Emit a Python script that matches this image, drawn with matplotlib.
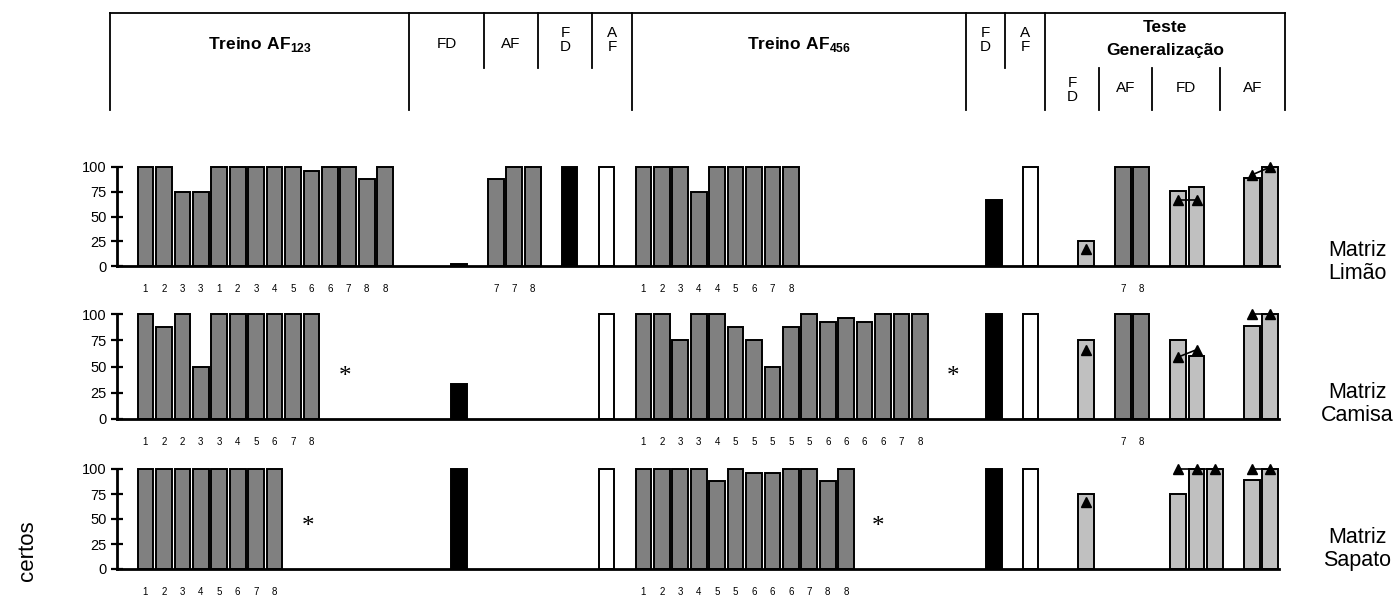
import matplotlib
matplotlib.use("Agg")
import matplotlib.pyplot as plt
import numpy as np

plt.rcParams['font.family'] = ['Liberation Sans', 'DejaVu Sans']
plt.rcParams['mathtext.fontset'] = 'custom'
plt.rcParams['mathtext.rm'] = 'Liberation Sans'
plt.rcParams['mathtext.bf'] = 'Liberation Sans:bold'

# ---- Matriz Limão ----
lim_treino1 = [100, 100, 75, 75, 100, 100, 100, 100, 100, 96, 100, 100, 88, 100]
lim_treino1_lab = ["1", "2", "3", "3", "1", "2", "3", "4", "5", "6", "6", "7", "8", "8"]
lim_fd = [2]
lim_af = [88, 100, 100]
lim_af_lab = ["7", "7", "8"]
lim_sonda_fd = [100]
lim_sonda_af = [100]
lim_treino2 = [100, 100, 100, 75, 100, 100, 100, 100, 100]
lim_treino2_lab = ["1", "2", "3", "4", "4", "5", "6", "7", "8"]
lim_sonda2_fd = [67]
lim_sonda2_af = [100]
lim_tg_fd1 = [25]
lim_tg_af1 = [100, 100]
lim_tg_af1_lab = ["7", "8"]
lim_tg_fd2 = [76, 80]
lim_tg_af2 = [89, 100]
lim_tri_fd1 = [17]
lim_tri_fd2 = [67, 67]
lim_tri_af2 = [92, 100]

# ---- Matriz Camisa ----
cam_treino1 = [100, 88, 100, 50, 100, 100, 100, 100, 100, 100]
cam_treino1_lab = ["1", "2", "2", "3", "3", "4", "5", "6", "7", "8"]
cam_fd = [33]
cam_af = []
cam_af_lab = []
cam_sonda_fd = []
cam_sonda_af = [100]
cam_treino2 = [100, 100, 75, 100, 100, 88, 75, 50, 88, 100, 92, 96, 92, 100, 100, 100]
cam_treino2_lab = ["1", "2", "3", "3", "4", "5", "5", "5", "5", "5", "6", "6", "6", "6", "7", "8"]
cam_sonda2_fd = [100]
cam_sonda2_af = [100]
cam_tg_fd1 = [75]
cam_tg_af1 = [100, 100]
cam_tg_af1_lab = ["7", "8"]
cam_tg_fd2 = [75, 60]
cam_tg_af2 = [89, 100]
cam_tri_fd1 = [66]
cam_tri_fd2 = [59, 66]
cam_tri_af2 = [100, 100]

# ---- Matriz Sapato ----
sap_treino1 = [100, 100, 100, 100, 100, 100, 100, 100]
sap_treino1_lab = ["1", "2", "3", "4", "5", "6", "7", "8"]
sap_fd = [100]
sap_af = []
sap_af_lab = []
sap_sonda_fd = []
sap_sonda_af = [100]
sap_treino2 = [100, 100, 100, 100, 88, 100, 96, 96, 100, 100, 88, 100]
sap_treino2_lab = ["1", "2", "3", "4", "5", "5", "6", "6", "6", "7", "8", "8"]
sap_sonda2_fd = [100]
sap_sonda2_af = [100]
sap_tg_fd1 = [75]
sap_tg_af1 = []
sap_tg_af1_lab = []
sap_tg_fd2 = [75, 100, 100]
sap_tg_af2 = [89, 100]
sap_tri_fd1 = [67]
sap_tri_fd2 = [100, 100, 100]
sap_tri_af2 = [100, 100]

# asterisks (x in slot units, y in %)
cam_ast = [(10.8, 40), (43.8, 40)]
sap_ast = [(8.8, 42), (39.7, 42)]

panel_names = ["Matriz\nLimão", "Matriz\nCamisa", "Matriz\nSapato"]

# layout: start slot of each block
S_TR1, S_FD, S_AF, S_SFD, S_SAF, S_TR2 = 0, 17, 19, 23, 25, 27
S_SFD2, S_SAF2, S_TFD1, S_TAF1, S_TFD2, S_TAF2 = 46, 48, 51, 53, 56, 60

DARK, LIGHT = "#808080", "#c0c0c0"
W, H = 1399, 596
XL = (-1.545, 61.47)
AX_L, AX_W = 117 / W, (1279 - 117) / W

fig = plt.figure(figsize=(W / 100, H / 100), dpi=100)

panels = [
    (lim_treino1, lim_treino1_lab, lim_fd, lim_af, lim_af_lab, lim_sonda_fd, lim_sonda_af,
     lim_treino2, lim_treino2_lab, lim_sonda2_fd, lim_sonda2_af, lim_tg_fd1, lim_tg_af1,
     lim_tg_af1_lab, lim_tg_fd2, lim_tg_af2, lim_tri_fd1, lim_tri_fd2, lim_tri_af2, []),
    (cam_treino1, cam_treino1_lab, cam_fd, cam_af, cam_af_lab, cam_sonda_fd, cam_sonda_af,
     cam_treino2, cam_treino2_lab, cam_sonda2_fd, cam_sonda2_af, cam_tg_fd1, cam_tg_af1,
     cam_tg_af1_lab, cam_tg_fd2, cam_tg_af2, cam_tri_fd1, cam_tri_fd2, cam_tri_af2, cam_ast),
    (sap_treino1, sap_treino1_lab, sap_fd, sap_af, sap_af_lab, sap_sonda_fd, sap_sonda_af,
     sap_treino2, sap_treino2_lab, sap_sonda2_fd, sap_sonda2_af, sap_tg_fd1, sap_tg_af1,
     sap_tg_af1_lab, sap_tg_fd2, sap_tg_af2, sap_tri_fd1, sap_tri_fd2, sap_tri_af2, sap_ast),
]
# pixel rows (y of 100, y of 0) and label centre
rows = [(167, 266, 262), (314, 419, 404), (469, 569, 549)]


def bars(ax, start, vals, color):
    x = np.arange(start, start + len(vals))
    if len(vals):
        ax.bar(x, vals, width=0.85, color=color, edgecolor="black", linewidth=1.4,
               clip_on=False, zorder=2)
    return list(x)


def tris(ax, start, vals):
    if len(vals):
        x = np.arange(start, start + len(vals))
        ax.plot(x, vals, color="black", lw=1.2, marker="^", ms=7, clip_on=False, zorder=4)


for i, p in enumerate(panels):
    y100, y0, ylab = rows[i]
    (tr1, tr1l, fd, af, afl, sfd, saf, tr2, tr2l, sfd2, saf2,
     tfd1, taf1, taf1l, tfd2, taf2, tri1, tri2, tri3, ast) = p
    ax = fig.add_axes([AX_L, 1 - y0 / H, AX_W, (y0 - y100) / H])
    ticks, labs = [], []
    ticks += bars(ax, S_TR1, tr1, DARK); labs += tr1l
    bars(ax, S_FD, fd, "black")
    ticks += bars(ax, S_AF, af, DARK); labs += afl
    bars(ax, S_SFD, sfd, "black")
    bars(ax, S_SAF, saf, "white")
    ticks += bars(ax, S_TR2, tr2, DARK); labs += tr2l
    bars(ax, S_SFD2, sfd2, "black")
    bars(ax, S_SAF2, saf2, "white")
    bars(ax, S_TFD1, tfd1, LIGHT)
    ticks += bars(ax, S_TAF1, taf1, DARK); labs += taf1l
    bars(ax, S_TFD2, tfd2, LIGHT)
    bars(ax, S_TAF2, taf2, LIGHT)
    tris(ax, S_TFD1, tri1)
    tris(ax, S_TFD2, tri2)
    tris(ax, S_TAF2, tri3)
    for xa, ya in ast:
        ax.text(xa, ya, "*", fontsize=18, family="Liberation Serif", ha="center", va="center")

    ax.set_xlim(*XL)
    ax.set_ylim(0, 100)
    ax.set_yticks([0, 25, 50, 75, 100])
    ax.set_xticks(ticks)
    ax.set_xticklabels(labs, fontsize=7)
    ax.tick_params(axis="x", length=0, pad=13)
    ax.tick_params(axis="y", direction="inout", length=9, width=1.6, labelsize=10.5, pad=3)
    for s in ["top", "right"]:
        ax.spines[s].set_visible(False)
    ax.spines["left"].set_linewidth(2)
    ax.spines["bottom"].set_linewidth(2)

    fig.text(1357 / W, 1 - ylab / H, panel_names[i],
             ha="center", va="center", fontsize=15.5, linespacing=1.15)

# the axis title is cropped in the original picture; only its tail is visible
fig.text(27 / W, 1 - 520 / H, "certos", rotation=90, ha="center", va="top", fontsize=16)

# ---- header table ----
hx = fig.add_axes([AX_L, 1 - 120 / H, AX_W, 120 / H])
hx.set_xlim(*XL)
hx.set_ylim(120, 0)
hx.axis("off")
lk = dict(color="black", lw=1.3, clip_on=False)
xL, xR = -1.92, 61.8
b_tr1, b_fd, b_af, b_sfd, b_saf = 14.29, 18.36, 21.29, 24.22, 26.39
b_tr2, b_sfd2, b_tg = 44.5, 46.61, 48.78
b_t1, b_t2, b_t3 = 51.71, 54.58, 58.27
hx.plot([xL, xR], [13, 13], **lk)
for xv in [xL, b_tr1, b_saf, b_tr2, b_tg, xR]:
    hx.plot([xv, xv], [13, 110], **lk)
for xv in [b_fd, b_af, b_sfd, b_sfd2]:
    hx.plot([xv, xv], [13, 68], **lk)
for xv in [b_t1, b_t2, b_t3]:
    hx.plot([xv, xv], [68, 110], **lk)

bold = r"$\mathbf{Treino\ AF}_{\mathbf{%s}}$"
hx.text((xL + b_tr1) / 2, 44, bold % "123", ha="center", va="center", fontsize=12.5)
hx.text((b_saf + b_tr2) / 2, 44, bold % "456", ha="center", va="center", fontsize=12.5)
sm = dict(ha="center", va="center", fontsize=11, linespacing=1.0)
hx.text((b_tr1 + b_fd) / 2, 44, "FD", **sm)
hx.text((b_fd + b_af) / 2, 44, "AF", **sm)
hx.text((b_af + b_sfd) / 2, 40, "F\nD", **sm)
hx.text((b_sfd + b_saf) / 2, 40, "A\nF", **sm)
hx.text((b_tr2 + b_sfd2) / 2, 40, "F\nD", **sm)
hx.text((b_sfd2 + b_tg) / 2, 40, "A\nF", **sm)
hx.text((b_tg + xR) / 2, 27, "Teste", ha="center", va="center", fontsize=12.5, fontweight="bold")
hx.text((b_tg + xR) / 2, 51, "Generalização", ha="center", va="center", fontsize=12.5,
        fontweight="bold")
hx.text((b_tg + b_t1) / 2, 90, "F\nD", **sm)
hx.text((b_t1 + b_t2) / 2, 88, "AF", **sm)
hx.text((b_t2 + b_t3) / 2, 88, "FD", **sm)
hx.text((b_t3 + xR) / 2, 88, "AF", **sm)

fig.savefig("out.png", dpi=100)
